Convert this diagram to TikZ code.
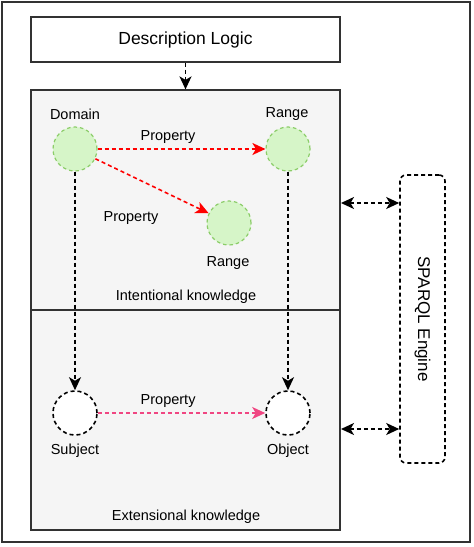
\documentclass[tikz,border=0pt]{standalone}
\usepackage{fontspec}
\setmainfont{Liberation Sans}
\usepackage{tikz}
\usetikzlibrary{arrows.meta}

\definecolor{boxgray}{RGB}{245,245,245}
\definecolor{edgegray}{RGB}{50,50,50}
\definecolor{nodegreen}{RGB}{214,245,200}
\definecolor{linegreen}{RGB}{140,205,105}
\definecolor{proppink}{RGB}{240,70,130}

\tikzset{
  lbl/.style={font=\fontsize{14.5}{17}\selectfont},
  dashline/.style={line width=1.6pt,dash pattern=on 4pt off 3pt},
  concept/.style={circle,draw=linegreen,line width=1.2pt,dash pattern=on 3.5pt off 3pt,
    fill=nodegreen,minimum size=44pt,inner sep=0pt},
  instance/.style={circle,draw=black,dashline,fill=white,minimum size=44pt,inner sep=0pt},
  dasharrow/.style={dashline,-{Stealth[length=13pt,width=12pt,inset=3.5pt]}},
  twoarrow/.style={dashline,{Stealth[length=13pt,width=12pt,inset=3.5pt]}-{Stealth[length=13pt,width=12pt,inset=3.5pt]}},
}

\begin{document}
\begin{tikzpicture}[x=1pt,y=-1pt]
    \useasboundingbox (0,0) rectangle (474,547);

    % outer frame
    \draw[edgegray,line width=2.2pt] (2,2) rectangle (470,542);

    % boxes
    \node[draw=edgegray,line width=1.4pt,fill=white,minimum width=309pt,minimum height=45pt,
          font=\fontsize{17.5}{20}\selectfont] (DL) at (185.5,39.5) {Description Logic};
    \node[draw=edgegray,line width=1.2pt,fill=boxgray,minimum width=309pt,minimum height=220pt,inner sep=0pt] (IK) at (185.5,200) {};
    \node[draw=edgegray,line width=1.2pt,fill=boxgray,minimum width=309pt,minimum height=220pt,inner sep=0pt] (EK) at (185.5,420) {};
    \node[lbl] at (186,297) {Intentional knowledge};
    \node[lbl] at (186,517) {Extensional knowledge};

    \draw[dasharrow] (DL.south) -- (IK.north);

    % concepts
    \node[concept] (D) at (75,149) {};
    \node[concept] (R1) at (288,149) {};
    \node[concept] (R2) at (229,223) {};
    \node[lbl] at (75,114) {Domain};
    \node[lbl] at (287,114) {Range};
    \node[lbl] at (228,263) {Range};

    \draw[dasharrow,red] (D) -- (R1) node[pos=0.42,above=1pt,black,lbl]{Property};
    \draw[dasharrow,red] (D) -- (R2);
    \node[lbl] at (131,218) {Property};

    % instances
    \node[instance] (S) at (75,413) {};
    \node[instance] (O) at (288,413) {};
    \node[lbl] at (75,451) {Subject};
    \node[lbl] at (288,451) {Object};
    \draw[dasharrow,proppink] (S) -- (O) node[pos=0.42,above=1pt,black,lbl]{Property};

    \draw[dasharrow] (D) -- (S);
    \draw[dasharrow] (R1) -- (O);

    % engine
    \node[draw=black,dashline,rounded corners=6pt,minimum width=45pt,minimum height=288pt] (SE) at (422.5,319) {};
    \node[rotate=-90,font=\fontsize{17}{20}\selectfont] at (SE.center) {SPARQL Engine};
    \coordinate (A1) at (341,203);
    \coordinate (A2) at (341,429);
    \draw[twoarrow] (A1) -- (A1 -| SE.west);
    \draw[twoarrow] (A2) -- (A2 -| SE.west);
\end{tikzpicture}
\end{document}
